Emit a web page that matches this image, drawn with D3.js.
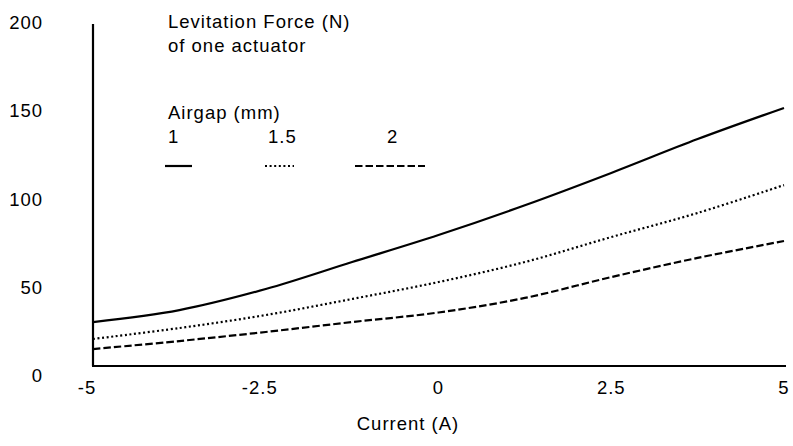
<!DOCTYPE html>
<html>
<head>
<meta charset="utf-8">
<script src="https://cdn.jsdelivr.net/npm/d3@7"></script>
<style>
  body { margin: 0; background: #fff; }
  text { font-family: "Liberation Sans", Arial, sans-serif; font-size: 18.5px; fill: #000; letter-spacing: 1px; }
</style>
</head>
<body>
<script>
	// data
	var current = [-5, -3.75, -2.5, -1.25, 0, 1.25, 2.5, 3.75, 5];
	var force1 = [25.7, 32.7, 45.0, 60.8, 76.6, 94.0, 112.9, 132.7, 150.9];
	var force15 = [15.8, 22.2, 29.8, 39.2, 49.1, 60.8, 75.4, 89.5, 105.8];
	var force2 = [9.9, 14.6, 19.9, 25.7, 31.3, 39.8, 52.0, 63.2, 73.1];
	var airgaps = ["1", "1.5", "2"];
	var xTicks = [-5, -2.5, 0, 2.5, 5];
	var yTicks = [0, 50, 100, 150, 200];

	var width = 793, height = 446;

	var svg = d3.select("body").append("svg")
		.attr("width", width).attr("height", height);

	var x = d3.scaleLinear().domain([-5, 5]).range([93, 784]);
	var y = d3.scaleLinear().domain([0, 200]).range([366, 24]);
	// tick labels sit on a slightly different spacing in the original
	var yLab = d3.scaleLinear().domain([0, 200]).range([375.5, 22.5]);

	var series = [
		{ name: airgaps[0], values: force1, dash: null },
		{ name: airgaps[1], values: force15, dash: "2,2.6" },
		{ name: airgaps[2], values: force2, dash: "7.5,3" }
	];

	// axes lines
	svg.append("line")
		.attr("x1", x(-5)).attr("x2", x(-5))
		.attr("y1", y(200)).attr("y2", y(0))
		.attr("stroke", "#000").attr("stroke-width", 2.2);
	svg.append("line")
		.attr("x1", x(-5) - 1).attr("x2", x(5) + 2)
		.attr("y1", y(0)).attr("y2", y(0))
		.attr("stroke", "#000").attr("stroke-width", 2.2);

	svg.selectAll("text.ytick").data(yTicks)
		.join("text").attr("class", "ytick")
		.attr("x", 43).attr("y", d => yLab(d))
		.attr("dy", "0.36em")
		.attr("text-anchor", "end")
		.text(d => d);

	svg.selectAll("text.xtick").data(xTicks)
		.join("text").attr("class", "xtick")
		.attr("x", d => x(d) + (d < 0 ? -6 : 0)).attr("y", 394)
		.attr("text-anchor", "middle")
		.text(d => d);

	svg.append("text")
		.attr("x", 408).attr("y", 430)
		.attr("text-anchor", "middle")
		.text("Current (A)");

	var line = d3.line()
		.x((d, i) => x(current[i]))
		.y(d => y(d))
		.curve(d3.curveCatmullRom.alpha(0.5));

	svg.selectAll("path.series").data(series)
		.join("path").attr("class", "series")
		.attr("d", d => line(d.values))
		.attr("fill", "none")
		.attr("stroke", "#000")
		.attr("stroke-width", 2.2)
		.attr("stroke-dasharray", d => d.dash);

	// legend / titles
	svg.append("text").attr("x", 168).attr("y", 28).text("Levitation Force (N)");
	svg.append("text").attr("x", 168).attr("y", 52).text("of one actuator");
	svg.append("text").attr("x", 168).attr("y", 119).text("Airgap (mm)");

	var legX = [168, 268, 387];
	var legLine = [[165, 192], [265, 294], [355, 425]];

	svg.selectAll("text.leg").data(series)
		.join("text").attr("class", "leg")
		.attr("x", (d, i) => legX[i]).attr("y", 143)
		.text(d => d.name);

	svg.selectAll("line.leg").data(series)
		.join("line").attr("class", "leg")
		.attr("x1", (d, i) => legLine[i][0]).attr("x2", (d, i) => legLine[i][1])
		.attr("y1", 166).attr("y2", 166)
		.attr("stroke", "#000").attr("stroke-width", 2.2)
		.attr("stroke-dasharray", d => d.dash);
</script>
</body>
</html>
